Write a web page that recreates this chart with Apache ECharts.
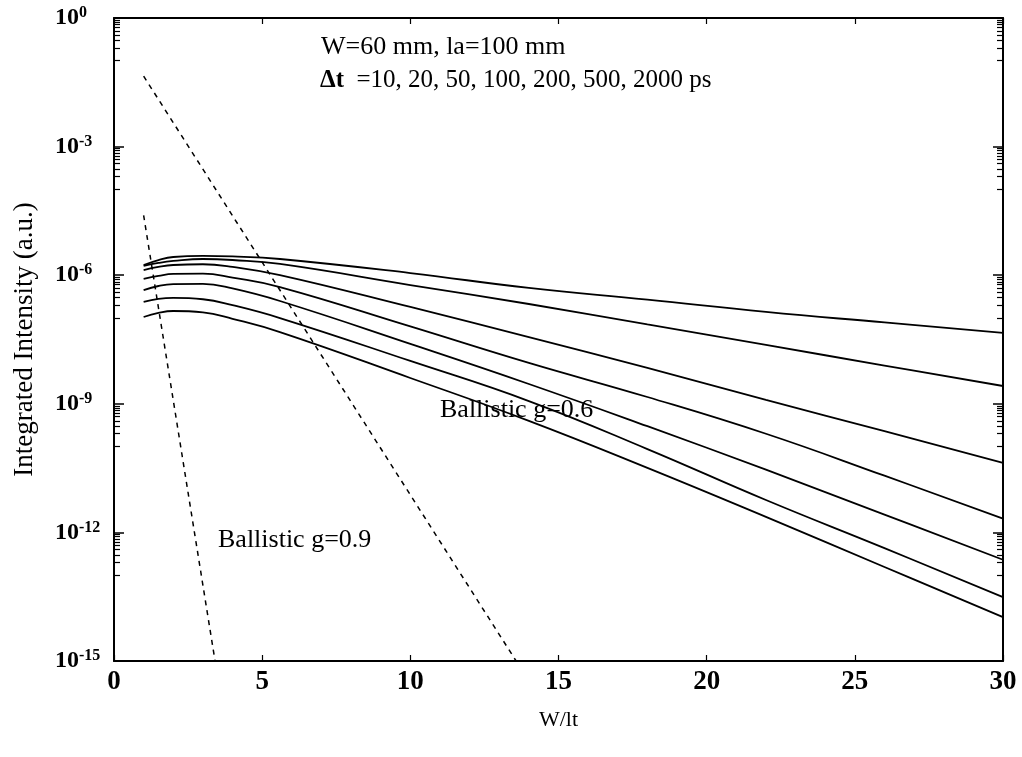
<!DOCTYPE html>
<html>
<head>
<meta charset="utf-8">
<script src="https://cdn.jsdelivr.net/npm/echarts@6/dist/echarts.min.js"></script>
<style>
  html, body { margin: 0; padding: 0; background: #fff; }
  #chart { width: 1022px; height: 757px; }
</style>
</head>
<body>
<div id="chart"></div>
<script>
// W/lt positions where the curves were read
const wOverLt = [1, 1.5, 2, 3, 4, 5.6, 10, 14, 18, 22, 26, 30];

// integrated intensity (a.u.) for each gate width
const gate2000 = [1.73e-6, 2.26e-6, 2.66e-6, 2.81e-6, 2.74e-6, 2.39e-6, 1.12e-6, 5.04e-7, 2.69e-7, 1.39e-7, 7.9e-8, 4.5e-8];
const gate500 = [1.64e-6, 1.93e-6, 2.15e-6, 2.39e-6, 2.26e-6, 1.83e-6, 5.9e-7, 2.13e-7, 7.1e-8, 2.36e-8, 7.8e-9, 2.6e-9];
const gate200 = [1.32e-6, 1.56e-6, 1.73e-6, 1.80e-6, 1.56e-6, 1.01e-6, 1.82e-7, 3.6e-8, 6.9e-9, 1.23e-9, 2.3e-10, 4.2e-11];
const gate100 = [8.2e-7, 9.6e-7, 1.07e-6, 1.09e-6, 8.8e-7, 5.3e-7, 6.4e-8, 9.0e-9, 1.44e-9, 2.0e-10, 2.1e-11, 2.1e-12];
const gate50 = [4.5e-7, 5.6e-7, 6.2e-7, 6.3e-7, 4.9e-7, 2.5e-7, 2.5e-8, 2.9e-9, 3.0e-10, 2.9e-11, 2.6e-12, 2.3e-13];
const gate20 = [2.4e-7, 2.8e-7, 2.95e-7, 2.75e-7, 2.0e-7, 1.0e-7, 1.0e-8, 1.16e-9, 8.8e-11, 5.7e-12, 4.3e-13, 3.1e-14];
const gate10 = [1.06e-7, 1.32e-7, 1.46e-7, 1.36e-7, 9.6e-8, 4.7e-8, 4.0e-9, 4.0e-10, 3.2e-11, 2.3e-12, 1.56e-13, 1.06e-14];

const gateNames = ['2000 ps', '500 ps', '200 ps', '100 ps', '50 ps', '20 ps', '10 ps'];
const gateSeries = [gate2000, gate500, gate200, gate100, gate50, gate20, gate10];

// ballistic (unscattered) light, straight lines on the log scale
const ballistic06X = [1, 13.57];
const ballistic06Y = [4.4e-2, 1e-15];
const ballistic09X = [1, 3.41];
const ballistic09Y = [2.5e-5, 1e-15];

const xTicks = [0, 5, 10, 15, 20, 25, 30];

const FONT = '"Liberation Serif", "Times New Roman", serif';

const chart = echarts.init(document.getElementById('chart'));

const pairs = (xs, ys) => xs.map((x, i) => [x, ys[i]]);

const series = gateSeries.map((values, i) => ({
  name: gateNames[i],
  type: 'line',
  data: pairs(wOverLt, values),
  showSymbol: false,
  smooth: 0.45,
  lineStyle: { color: '#000', width: 1.8 },
}));

[[ballistic06X, ballistic06Y, 'Ballistic g=0.6'], [ballistic09X, ballistic09Y, 'Ballistic g=0.9']]
  .forEach(([xs, ys, name]) => {
    series.push({
      name,
      type: 'line',
      data: pairs(xs, ys),
      showSymbol: false,
      lineStyle: { color: '#000', width: 1.5, type: [5, 5] },
    });
  });

const tickLabelRich = {
  b: { fontFamily: FONT, fontSize: 24, fontWeight: 'bold', color: '#000', lineHeight: 26 },
  s: { fontFamily: FONT, fontSize: 16, fontWeight: 'bold', color: '#000', lineHeight: 16, verticalAlign: 'top' },
};

function powerLabel(value) {
  const exp = Math.round(Math.log10(value));
  return `{b|10}{s|${exp}}`;
}

const logAxisBase = {
  type: 'log',
  logBase: 1000,
  min: 1e-15,
  max: 1,
  axisLine: { show: true, onZero: false, lineStyle: { color: '#000', width: 2 } },
  axisTick: { show: true, inside: true, length: 10, lineStyle: { color: '#000', width: 1.5 } },
  minorTick: { show: true, splitNumber: 10, length: 6, lineStyle: { color: '#000', width: 1.2 } },
  splitLine: { show: false },
  minorSplitLine: { show: false },
};

const valueAxisBase = {
  type: 'value',
  min: xTicks[0],
  max: xTicks[xTicks.length - 1],
  interval: xTicks[1] - xTicks[0],
  axisLine: { show: true, onZero: false, lineStyle: { color: '#000', width: 2 } },
  axisTick: { show: true, inside: true, length: 6, lineStyle: { color: '#000', width: 1.2 } },
  splitLine: { show: false },
};

const option = {
  backgroundColor: '#fff',
  animation: false,
  grid: { left: 114, right: 19, top: 18, bottom: 96 },
  xAxis: [
    {
      ...valueAxisBase,
      position: 'bottom',
      name: 'W/lt',
      nameLocation: 'middle',
      nameGap: 48,
      nameTextStyle: { fontFamily: FONT, fontSize: 22, color: '#000' },
      axisLabel: { fontFamily: FONT, fontSize: 27, fontWeight: 'bold', color: '#000', margin: 8 },
    },
    {
      ...valueAxisBase,
      position: 'top',
      axisLabel: { show: false },
    },
  ],
  yAxis: [
    {
      ...logAxisBase,
      position: 'left',
      name: 'Integrated Intensity (a.u.)',
      nameLocation: 'middle',
      nameGap: 76,
      nameTextStyle: { fontFamily: FONT, fontSize: 27, color: '#000' },
      axisLabel: { formatter: powerLabel, rich: tickLabelRich, align: 'left', margin: 59 },
    },
    {
      ...logAxisBase,
      position: 'right',
      axisLabel: { show: false },
    },
  ],
  series,
  graphic: [
    {
      type: 'text', left: 321, top: 34,
      style: { text: 'W=60 mm, la=100 mm', font: `26px ${FONT}`, fill: '#000' },
    },
    {
      type: 'text', left: 320, top: 68,
      style: {
        text: '{d|\u0394t}  =10, 20, 50, 100, 200, 500, 2000 ps',
        font: `25px ${FONT}`,
        fill: '#000',
        rich: { d: { fontFamily: FONT, fontSize: 25, fontWeight: 'bold', fill: '#000' } },
      },
    },
    {
      type: 'text', left: 440, top: 397,
      style: { text: 'Ballistic g=0.6', font: `26px ${FONT}`, fill: '#000' },
    },
    {
      type: 'text', left: 218, top: 527,
      style: { text: 'Ballistic g=0.9', font: `26px ${FONT}`, fill: '#000' },
    },
  ],
};

chart.setOption(option);
</script>
</body>
</html>
